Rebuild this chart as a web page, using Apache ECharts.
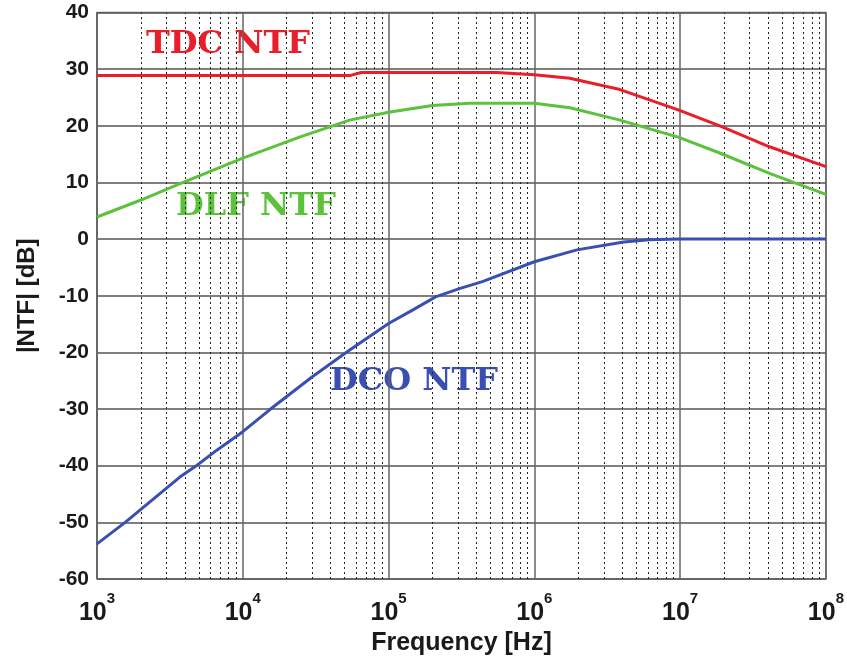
<!DOCTYPE html>
<html>
<head>
<meta charset="utf-8">
<script src="https://cdn.jsdelivr.net/npm/echarts@6/dist/echarts.min.js"></script>
<style>html,body{margin:0;padding:0;background:#fff}#c{width:847px;height:665px}</style>
</head>
<body>
<div id="c"></div>
<script>
// ---- data ----
const freqTDC = [1e3, 5.5e4, 6.5e4, 5.5e5, 1e6, 1.75e6, 3.87e6, 9.7e6, 1.87e7, 4.1e7, 1e8];
const tdcNTF  = [28.9, 28.9, 29.4, 29.4, 29.0, 28.4, 26.4, 22.8, 20.0, 16.3, 12.8];

const freqDLF = [1e3, 2e3, 3.9e3, 1e4, 2.45e4, 5.4e4, 1e5, 2e5, 3.6e5, 1e6, 1.75e6, 3.87e6, 6.1e6, 9.7e6, 1.87e7, 4.1e7, 1e8];
const dlfNTF  = [3.9, 6.9, 10.0, 14.3, 18.0, 21.0, 22.4, 23.6, 24.0, 24.0, 23.2, 21.0, 19.5, 18.0, 15.2, 11.6, 7.9];

const freqDCO = [1e3, 1.56e3, 3.7e3, 4.8e3, 6.6e3, 1e4, 1.55e4, 3e4, 5.2e4, 1e5, 1.47e5, 2.1e5, 3.1e5, 4.4e5, 1e6, 1.96e6, 4.1e6, 6.1e6, 1e7, 1e8];
const dcoNTF  = [-53.8, -50, -42.0, -40.0, -37.3, -34.0, -30.0, -24.3, -19.9, -14.9, -12.5, -10.2, -8.7, -7.5, -4.0, -1.9, -0.5, -0.1, 0, 0];

const decades = [3, 4, 5, 6, 7];
const minorMultipliers = [2, 3, 4, 5, 6, 7, 8, 9];
const yTicks = [-60, -50, -40, -30, -20, -10, 0, 10, 20, 30, 40];

const seriesNames = ['TDC NTF', 'DLF NTF', 'DCO NTF'];
const colors = ['#ea1d2a', '#5cc23c', '#3a4fb2'];

// ---- build ----
const minorLines = [];
decades.forEach(d => minorMultipliers.forEach(m => minorLines.push({ xAxis: m * Math.pow(10, d) })));

function pairs(xs, ys) { return xs.map((x, i) => [x, ys[i]]); }

const chart = echarts.init(document.getElementById('c'), null, { renderer: 'canvas' });
const labelFont = 'Liberation Sans, Arial, sans-serif';
const serif = '"DejaVu Serif", "Liberation Serif", serif';

chart.setOption({
  animation: false,
  backgroundColor: '#fff',
  grid: { left: 97, right: 21, top: 12.5, bottom: 86, show: true, borderColor: '#777', borderWidth: 1.5 },
  xAxis: {
    type: 'log', logBase: 10, min: 1e3, max: 1e8,
    name: 'Frequency [Hz]', nameLocation: 'middle', nameGap: 52,
    nameTextStyle: { fontFamily: labelFont, fontWeight: 'bold', fontSize: 25, color: '#1a1a1a' },
    axisLine: { show: false }, axisTick: { show: false },
    splitLine: { show: true, lineStyle: { color: '#666', width: 1.5 } },
    axisLabel: {
      margin: 12,
      formatter: v => '{b|10}{s|' + Math.round(Math.log10(v)) + '}',
      rich: {
        b: { fontFamily: labelFont, fontWeight: 'bold', fontSize: 25, color: '#1a1a1a', verticalAlign: 'bottom', padding: [10, 0, 0, 0] },
        s: { fontFamily: labelFont, fontWeight: 'bold', fontSize: 15, color: '#1a1a1a', verticalAlign: 'top', padding: [0, 0, 12, 0] }
      }
    }
  },
  yAxis: {
    type: 'value', min: yTicks[0], max: yTicks[yTicks.length - 1], interval: 10,
    name: '|NTF| [dB]', nameLocation: 'middle', nameGap: 58, nameRotate: 90,
    nameTextStyle: { fontFamily: labelFont, fontWeight: 'bold', fontSize: 24, color: '#1a1a1a' },
    axisLine: { show: false }, axisTick: { show: false },
    splitLine: { show: true, lineStyle: { color: '#555', width: 1.5 } },
    axisLabel: { fontFamily: labelFont, fontWeight: 'bold', fontSize: 21, color: '#1a1a1a', margin: 8 }
  },
  series: [
    {
      name: seriesNames[0], type: 'line', data: pairs(freqTDC, tdcNTF), showSymbol: false,
      smooth: false, lineStyle: { color: colors[0], width: 3, join: 'round' }, z: 5,
      markLine: {
        silent: true, symbol: 'none', label: { show: false },
        lineStyle: { color: '#222', type: [2, 3], width: 1 },
        data: minorLines, z: 1, animation: false
      }
    },
    { name: seriesNames[1], type: 'line', data: pairs(freqDLF, dlfNTF), showSymbol: false, smooth: false, lineStyle: { color: colors[1], width: 3, join: 'round' }, z: 5 },
    { name: seriesNames[2], type: 'line', data: pairs(freqDCO, dcoNTF), showSymbol: false, smooth: false, lineStyle: { color: colors[2], width: 3, join: 'round' }, z: 5 }
  ],
  graphic: [
    { type: 'text', left: 146, top: 29, style: { text: seriesNames[0], fill: colors[0], font: 'bold 32px ' + serif } },
    { type: 'text', left: 176, top: 191, style: { text: seriesNames[1], fill: colors[1], font: 'bold 32px ' + serif } },
    { type: 'text', left: 330, top: 366, style: { text: seriesNames[2], fill: colors[2], font: 'bold 32px ' + serif } }
  ]
});
</script>
</body>
</html>
